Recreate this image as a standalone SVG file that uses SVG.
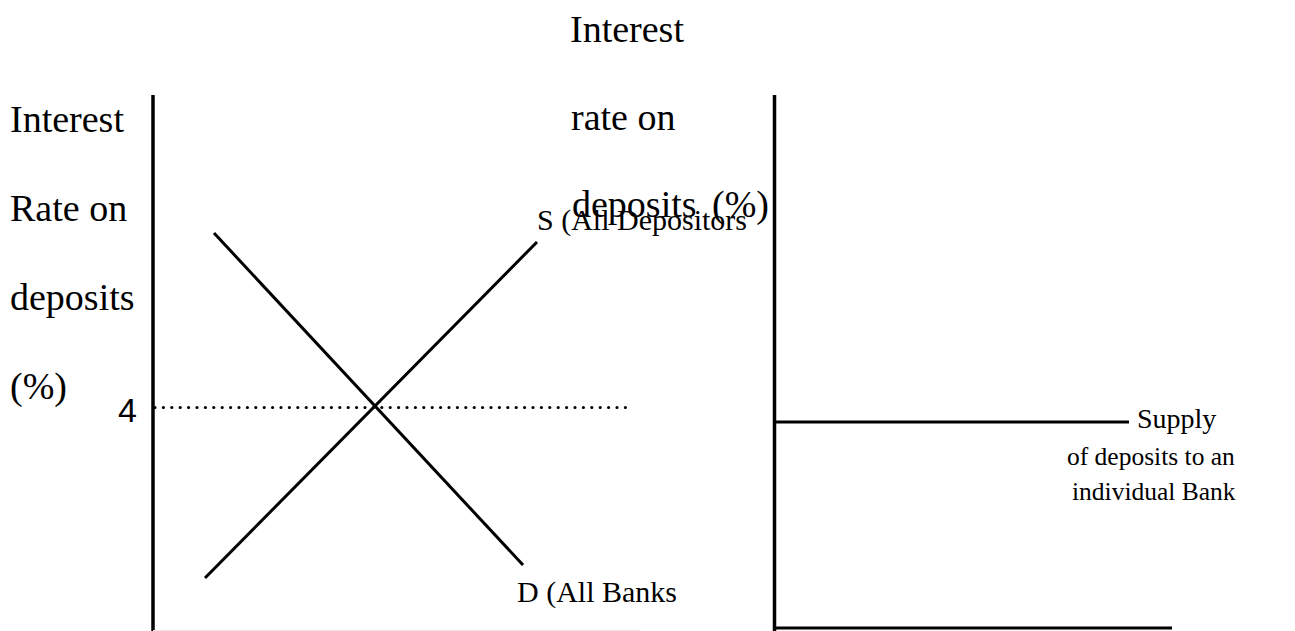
<svg xmlns="http://www.w3.org/2000/svg" width="1295" height="631" viewBox="0 0 1295 631">
<style>
.t{font-family:"Liberation Serif","Times New Roman",serif;fill:#000}
.big{font-size:38px}
.mid{font-size:30px}
.sm{font-size:25.5px}
.ax{stroke:#000;stroke-width:3.5;fill:none}
.ln{stroke:#000;stroke-width:3;fill:none}
.dot{stroke:#000;stroke-width:3.2;stroke-linecap:round;stroke-dasharray:0 8.4;fill:none}
</style>
<rect width="1295" height="631" fill="#fff"/>
<g id="left-axis">
<line class="ax" x1="153" y1="95" x2="153" y2="631"/>
<line x1="153" y1="630.5" x2="640" y2="630.5" stroke="#e4e4e4" stroke-width="1"/>
<text class="t big" x="10" y="132">Interest</text>
<text class="t big" x="10" y="221">Rate on</text>
<text class="t big" x="10" y="310">deposits</text>
<text class="t big" x="10" y="399">(%)</text>
<text x="137" y="422" text-anchor="end" style="font-family:'Liberation Sans',Arial,sans-serif;font-size:34px;font-weight:normal">4</text>
</g>
<g id="right-axis">
<line class="ax" x1="774.5" y1="95" x2="774.5" y2="631"/>
<line class="ln" x1="773" y1="628" x2="1172" y2="628"/>
<text class="t big" x="570" y="42">Interest</text>
<text class="t big" x="571" y="130">rate on</text>
<text class="t big" x="572" y="217">deposits<tspan x="712">(%)</tspan></text>
</g>
<g id="connectors">
<line class="dot" x1="155" y1="407.5" x2="629" y2="407.5"/>
<line class="ln" x1="214" y1="233" x2="523" y2="565"/>
<line class="ln" x1="205" y1="578" x2="537" y2="242"/>
<line class="ln" x1="776" y1="422" x2="1129" y2="422"/>
</g>
<g id="S-label"><text class="t mid" x="537" y="230">S (All Depositors</text></g>
<g id="D-label"><text class="t mid" x="517" y="602">D (All Banks</text></g>
<g id="supply-label">
<text class="t" style="font-size:28px" x="1137" y="428">Supply</text>
<text class="t sm" x="1067" y="465">of deposits to an</text>
<text class="t sm" x="1072" y="500">individual Bank</text>
</g>
</svg>
